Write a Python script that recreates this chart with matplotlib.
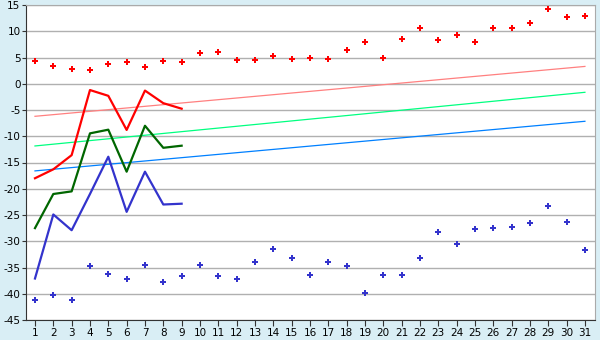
import matplotlib.pyplot as plt

plt.rcParams['axes.unicode_minus'] = False

days = list(range(1, 32))

# daily max / min (markers)
t_max = [4.4, 3.3, 2.9, 2.7, 3.7, 4.1, 3.1, 4.3, 4.1, 5.8,
         6.0, 4.5, 4.5, 5.2, 4.65, 4.85, 4.65, 6.4, 7.9, 4.85,
         8.45, 10.55, 8.3, 9.2, 7.9, 10.55, 10.55, 11.5, 14.2, 12.65, 13.0]
t_min = [-41.1, -40.3, -41.1, -34.8, -36.3, -37.1, -34.6, -37.8, -36.7, -34.6,
         -36.7, -37.25, -34.0, -31.5, -33.1, -36.5, -34.0, -34.8, -39.9, -36.5,
         -36.5, -33.1, -28.3, -30.6, -27.7, -27.5, -27.2, -26.6, -23.3, -26.4, -31.7]

# thick lines, first 9 days
obs_days = list(range(1, 10))
obs_max = [-18.0, -16.3, -13.6, -1.2, -2.3, -8.8, -1.3, -3.7, -4.75]
obs_mean = [-27.5, -21.0, -20.5, -9.45, -8.75, -16.75, -8.0, -12.2, -11.8]
obs_min = [-37.1, -24.9, -27.9, -21.0, -13.9, -24.4, -16.75, -23.0, -22.85]

# normals (start, end of month)
norm_days = [1, 31]
norm_max = [-6.2, 3.3]
norm_mean = [-11.85, -1.63]
norm_min = [-16.6, -7.15]

bg = '#D9EEF5'
fig = plt.figure(figsize=(6, 3.4), dpi=100, facecolor=bg)
ax = fig.add_axes([26/600, 1 - 320/340, (595 - 26)/600, (320 - 5)/340])
ax.set_facecolor('white')

for y in range(-45, 16, 5):
    ax.axhline(y, color='#B0B0B0', lw=1.0, zorder=1)

ax.plot(norm_days, norm_max, color='#FF8080', lw=0.9, zorder=2)
ax.plot(norm_days, norm_mean, color='#00FF80', lw=0.9, zorder=2)
ax.plot(norm_days, norm_min, color='#0080FF', lw=0.9, zorder=2)

ax.plot(obs_days, obs_max, color='#FF0000', lw=1.6, zorder=3)
ax.plot(obs_days, obs_mean, color='#006600', lw=1.6, zorder=3)
ax.plot(obs_days, obs_min, color='#3333CC', lw=1.6, zorder=3)

ax.plot(days, t_max, ls='none', marker='P', ms=5, color='#FF0000', mew=0, zorder=4)
ax.plot(days, t_min, ls='none', marker='P', ms=5, color='#3333CC', mew=0, zorder=4)

ax.set_xlim(0.51, 31.55)
ax.set_ylim(-45, 15)
ax.set_xticks(days)
ax.set_yticks(range(-45, 16, 5))
ax.tick_params(axis='x', labelsize=7.5, length=4, color='#333333', width=0.8, pad=1.5)
ax.tick_params(axis='y', labelsize=7.5, length=3, color='#333333', width=0.8, pad=1)
for s in ax.spines.values():
    s.set_color('#AAAAAA')
ax.spines['left'].set_color('#333333')
ax.spines['bottom'].set_color('#333333')

plt.savefig('out.png', dpi=100, facecolor=bg)
